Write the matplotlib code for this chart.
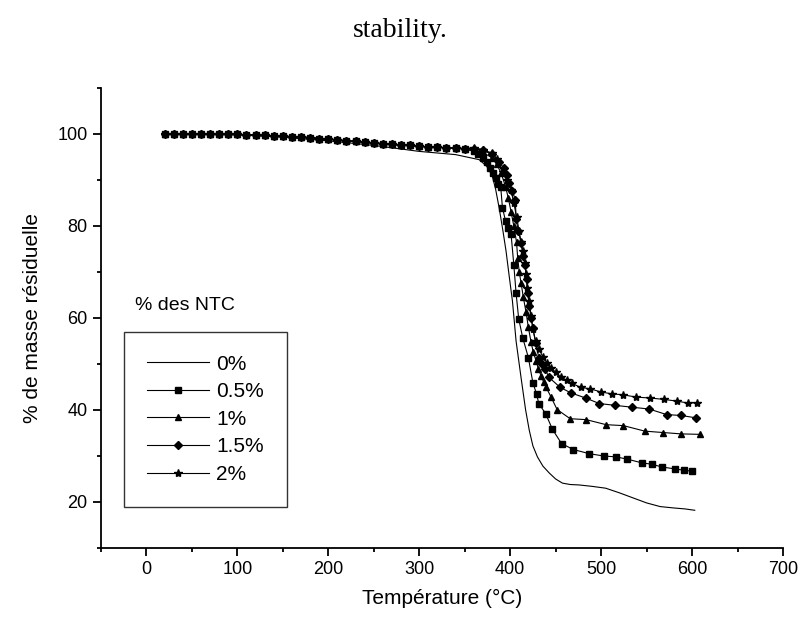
import matplotlib.pyplot as plt
from matplotlib.ticker import MultipleLocator

plt.rcParams['font.family'] = ['Liberation Sans', 'DejaVu Sans']

# shared plateau (before decomposition) for the filled series
t_plateau = [20, 30, 40, 50, 60, 70, 80, 90, 100, 110, 120, 130, 140, 150, 160, 170,
             180, 190, 200, 210, 220, 230, 240, 250, 260, 270, 280, 290, 300, 310,
             320, 330, 340, 350]
m_plateau = [100, 100, 100, 100, 100, 100, 100, 99.9, 99.9, 99.8, 99.8, 99.7, 99.6,
             99.5, 99.4, 99.3, 99.2, 99.0, 98.9, 98.7, 98.5, 98.4, 98.2, 98.0, 97.9,
             97.7, 97.6, 97.5, 97.3, 97.2, 97.1, 97.0, 96.9, 96.8]

t_0 = [20, 100, 150, 200, 250, 300, 340, 366, 374, 380, 384, 388, 392, 395.5, 399,
       402.5, 406.5, 412, 417, 421, 425, 430, 436, 443, 450, 457.5, 466, 476, 490, 505,
       520, 535, 550, 565, 580, 592, 603]
m_0 = [100, 99.8, 99.3, 98.5, 97.5, 96.2, 95.5, 94.4, 93.0, 91.1, 88.0, 83.8, 79.0,
       74.5, 69.0, 63.7, 55, 47, 40, 35.6, 32.2, 29.8, 27.8, 26.3, 25.0, 24.1, 23.8,
       23.7, 23.4, 23.0, 22.0, 20.9, 19.8, 19.0, 18.7, 18.5, 18.2]

t_05 = [360, 365, 370, 375, 378, 381, 384.5, 387, 389.6, 391.5, 395, 398, 401, 404,
        406.5, 409.4, 413.8, 420, 425, 429, 431.5, 439, 446.5, 456.5, 469.5, 487,
        502.7, 516.6, 529, 545, 556, 567, 581, 591, 599.5]
m_05 = [96.2, 95.7, 94.7, 93.8, 92.6, 91.5, 90.5, 89.2, 88.5, 84, 81, 79.5, 78.2, 71.6,
        65.4, 59.8, 55.7, 51.4, 45.9, 43.5, 41.4, 39.2, 35.8, 32.7, 31.4, 30.5, 30,
        29.8, 29.3, 28.5, 28.2, 27.6, 27.2, 26.9, 26.7]

t_1 = [360, 370, 380, 385, 390, 395, 398, 401, 404, 407, 408.3, 410, 412, 414.5, 417.5,
       420, 423, 425.5, 428.5, 431, 434, 437, 439.6, 445, 451.6, 466, 483.6, 505.6,
       524.5, 548, 568, 588, 608.6]
m_1 = [96.5, 96, 94.8, 93.5, 91.5, 88.5, 86, 83.1, 80, 76.5, 73, 70, 67.6, 64.5, 61.2,
       58, 54.7, 52.5, 50.7, 49, 47.4, 46, 44.9, 42.8, 40.1, 38.1, 37.9, 36.8, 36.6,
       35.4, 35.1, 34.8, 34.7]

t_15 = [360, 370, 380, 388, 393, 396, 399, 402.5, 405.7, 406.5, 409, 412, 414, 416.4,
        418, 419.3, 421, 423, 425, 428, 431.5, 435, 438.4, 442.6, 455, 467, 483, 498,
        515.6, 534, 553, 572, 588, 604]
m_15 = [96.8, 96.4, 95.6, 94, 92.5, 91, 89.3, 87.5, 85.7, 81.4, 79, 76.3, 73.5, 71.6,
        68.5, 65.5, 62.5, 60, 57.9, 54.5, 51.4, 50, 48.9, 47.1, 44.9, 43.7, 42.6, 41.4,
        41, 40.6, 40.2, 39, 38.8, 38.3]

t_2 = [360, 370, 380, 386, 391.7, 396, 401, 404, 407, 410, 412, 414, 416, 417.5, 419,
       421, 423, 425, 428, 431.5, 436, 440, 445, 450, 455.4, 462, 468, 477.4, 488, 500,
       512, 524, 538.5, 553.5, 569, 584, 595.6, 605]
m_2 = [97, 96.6, 95.8, 94.5, 91.8, 90, 87.8, 85, 82, 78.8, 76.5, 74.5, 72, 69.5, 66.5,
       63.7, 60.5, 57.5, 55, 53.2, 51.6, 50.3, 49.1, 48.2, 47.2, 46.5, 45.8, 44.9, 44.6,
       43.9, 43.5, 43.3, 42.8, 42.6, 42.3, 41.9, 41.5, 41.6]

labels = ['0%', '0.5%', '1%', '1.5%', '2%']

fig = plt.figure(figsize=(8.01, 6.19), dpi=100)
ax = fig.add_axes([0.126, 0.1147, 0.8515, 0.7433])

lw = 0.8
ax.plot(t_0, m_0, color='black', lw=lw, label=labels[0])
ax.plot(t_plateau + t_05, m_plateau + m_05, color='black', lw=lw, marker='s', ms=4,
        label=labels[1])
ax.plot(t_plateau + t_1, m_plateau + m_1, color='black', lw=lw, marker='^', ms=5,
        label=labels[2])
ax.plot(t_plateau + t_15, m_plateau + m_15, color='black', lw=lw, marker='D', ms=4.2,
        label=labels[3])
ax.plot(t_plateau + t_2, m_plateau + m_2, color='black', lw=lw, marker='*', ms=6,
        label=labels[4])

ax.set_xlim(-50, 700)
ax.set_ylim(10, 110)
ax.xaxis.set_major_locator(MultipleLocator(100))
ax.xaxis.set_minor_locator(MultipleLocator(50))
ax.yaxis.set_minor_locator(MultipleLocator(10))
ax.set_yticks([20, 40, 60, 80, 100])
for s in ['top', 'right']:
    ax.spines[s].set_visible(False)
for s in ['left', 'bottom']:
    ax.spines[s].set_linewidth(1.3)
ax.tick_params(which='major', length=5.5, width=1.3, labelsize=13, pad=4,
               direction='out')
ax.tick_params(which='minor', length=3, width=1.3, direction='out')

ax.set_xlabel('Température (°C)', fontsize=15, labelpad=8)
ax.set_ylabel('% de masse résiduelle', fontsize=15, labelpad=11)

leg = ax.legend(loc='upper left', bbox_to_anchor=(0.1548, 0.4641),
                bbox_transform=fig.transFigure, fontsize=15, frameon=True,
                fancybox=False, edgecolor='black', handlelength=3.0,
                handletextpad=0.33, labelspacing=0.41, borderpad=1.1,
                borderaxespad=0)
leg.get_frame().set_linewidth(1.0)
fig.text(0.1685, 0.507, '% des NTC', fontsize=14, va='center', ha='left')

fig.text(0.5, 0.95, 'stability.', fontsize=20, ha='center', va='center',
         family=['Liberation Serif', 'DejaVu Serif'])

fig.savefig('out.png', dpi=100)
